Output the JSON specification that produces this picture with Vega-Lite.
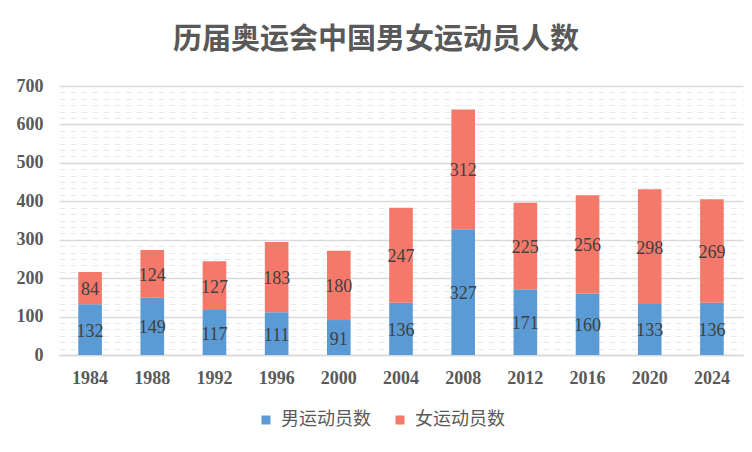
{
  "$schema": "https://vega.github.io/schema/vega-lite/v6.json",
  "width": 684,
  "height": 269,
  "autosize": {"type": "none"},
  "padding": {"left": 59, "top": 86, "right": 9, "bottom": 97},
  "background": "white",
  "title": {
    "text": "历届奥运会中国男女运动员人数",
    "font": "Noto Sans CJK SC",
    "fontSize": 29,
    "fontWeight": "bold",
    "color": "#595959",
    "anchor": "middle",
    "offset": 22,
    "dx": -25
  },
  "data": {
    "values": [
      {"年份": "1984", "类别": "男运动员数", "人数": 132},
      {"年份": "1984", "类别": "女运动员数", "人数": 84},
      {"年份": "1988", "类别": "男运动员数", "人数": 149},
      {"年份": "1988", "类别": "女运动员数", "人数": 124},
      {"年份": "1992", "类别": "男运动员数", "人数": 117},
      {"年份": "1992", "类别": "女运动员数", "人数": 127},
      {"年份": "1996", "类别": "男运动员数", "人数": 111},
      {"年份": "1996", "类别": "女运动员数", "人数": 183},
      {"年份": "2000", "类别": "男运动员数", "人数": 91},
      {"年份": "2000", "类别": "女运动员数", "人数": 180},
      {"年份": "2004", "类别": "男运动员数", "人数": 136},
      {"年份": "2004", "类别": "女运动员数", "人数": 247},
      {"年份": "2008", "类别": "男运动员数", "人数": 327},
      {"年份": "2008", "类别": "女运动员数", "人数": 312},
      {"年份": "2012", "类别": "男运动员数", "人数": 171},
      {"年份": "2012", "类别": "女运动员数", "人数": 225},
      {"年份": "2016", "类别": "男运动员数", "人数": 160},
      {"年份": "2016", "类别": "女运动员数", "人数": 256},
      {"年份": "2020", "类别": "男运动员数", "人数": 133},
      {"年份": "2020", "类别": "女运动员数", "人数": 298},
      {"年份": "2024", "类别": "男运动员数", "人数": 136},
      {"年份": "2024", "类别": "女运动员数", "人数": 269}
    ]
  },
  "encoding": {
    "x": {
      "field": "年份",
      "type": "ordinal",
      "scale": {"paddingInner": 0.62, "paddingOuter": 0.31},
      "axis": {
        "title": null,
        "labelAngle": 0,
        "labelFont": "Liberation Serif",
        "labelFontSize": 18,
        "labelFontWeight": "bold",
        "labelColor": "#595959",
        "labelPadding": 14,
        "ticks": false,
        "domainColor": "#d9d9d9",
        "domainWidth": 1.5,
        "grid": false
      }
    }
  },
  "layer": [
    {
      "mark": {"type": "bar"},
      "encoding": {
        "y": {
          "field": "人数",
          "type": "quantitative",
          "stack": "zero",
          "scale": {"domain": [0, 700], "nice": false},
          "axis": {
            "orient": "left",
            "title": null,
            "labels": false,
            "ticks": false,
            "domain": false,
            "grid": true,
            "gridColor": "#e6e9ee",
            "gridDash": [6, 5],
            "gridWidth": 1,
            "values": [16.67, 33.33, 50, 66.67, 83.33, 116.67, 133.33, 150, 166.67, 183.33, 216.67, 233.33, 250, 266.67, 283.33, 316.67, 333.33, 350, 366.67, 383.33, 416.67, 433.33, 450, 466.67, 483.33, 516.67, 533.33, 550, 566.67, 583.33, 616.67, 633.33, 650, 666.67, 683.33]
          }
        },
        "color": {
          "field": "类别",
          "type": "nominal",
          "scale": {"domain": ["男运动员数", "女运动员数"], "range": ["#5b9bd5", "#f4796a"]},
          "legend": {
            "title": null,
            "orient": "none",
            "direction": "horizontal",
            "legendX": 198,
            "legendY": 325,
            "symbolType": "square",
            "symbolSize": 81,
            "symbolStrokeWidth": 0,
            "labelFont": "Noto Sans CJK SC",
            "labelFontSize": 18,
            "labelColor": "#595959",
            "labelOffset": 6,
            "columnPadding": 20,
            "padding": 0
          }
        },
        "order": {"field": "类别", "sort": "descending"}
      }
    },
    {
      "mark": {"type": "text", "font": "Liberation Serif", "fontSize": 18, "color": "#404040", "baseline": "middle", "dy": 2},
      "encoding": {
        "y": {
          "field": "人数",
          "type": "quantitative",
          "stack": "zero",
          "bandPosition": 0.5,
          "axis": {
            "orient": "left",
            "title": null,
            "values": [0, 100, 200, 300, 400, 500, 600, 700],
            "labelFont": "Liberation Serif",
            "labelFontSize": 18,
            "labelFontWeight": "bold",
            "labelColor": "#595959",
            "labelPadding": 16,
            "ticks": false,
            "domain": false,
            "grid": true,
            "gridColor": "#d9d9d9",
            "gridWidth": 1.5
          }
        },
        "detail": {"field": "类别"},
        "order": {"field": "类别", "sort": "descending"},
        "text": {"field": "人数", "type": "quantitative"}
      }
    }
  ],
  "resolve": {"axis": {"y": "independent"}},
  "config": {"view": {"stroke": null}}
}
